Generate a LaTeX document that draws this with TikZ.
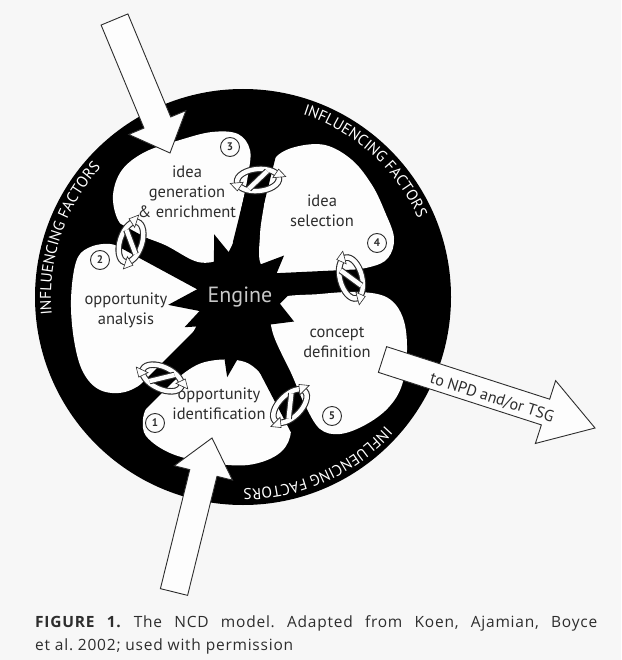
\documentclass[tikz,border=0pt]{standalone}
\usepackage{fontspec}
\setmainfont{PT Sans}
\newfontfamily\capfam{Open Sans}[LetterSpace=5]
\usetikzlibrary{calc,decorations.text}
\definecolor{bgc}{RGB}{247,247,247}
\definecolor{lobec}{RGB}{253,253,253}
\definecolor{inkc}{RGB}{45,45,45}
\definecolor{engc}{RGB}{200,200,200}
\newcommand\lblfont{\fontsize{16.5}{20}\selectfont}
\newcommand\ringfont{\fontsize{15.5}{16}\selectfont}
\newcommand\capfont{\capfam\fontsize{15.5}{20}\selectfont}
\newcommand\blockarrow[5]{%
  \coordinate (ba-h) at ($(#2)!#5!(#1)$);
  \draw[arrowbox] ($(#1)!#3!90:(#2)$) -- ($(ba-h)!#3!-90:(#1)$) -- ($(ba-h)!#4!-90:(#1)$) -- (#2)
    -- ($(ba-h)!#4!90:(#1)$) -- ($(ba-h)!#3!90:(#1)$) -- ($(#1)!#3!-90:(#2)$) -- cycle;}
\begin{document}
\frenchspacing
\begin{tikzpicture}[x=1pt,y=-1pt,
  arrowbox/.style={fill=lobec, draw=inkc, line width=0.9pt, line join=miter},
  lobe/.style={fill=lobec},
  spoke/.style={line width=21pt, black, line cap=butt},
  lbl/.style={font=\lblfont, text=inkc, align=center, inner sep=0pt},
  numc/.style={circle, draw=inkc, line width=0.9pt, fill=lobec, inner sep=0pt, minimum size=19pt,
    font=\fontsize{11}{11}\selectfont\bfseries, text=inkc},
  ringtxt/.style={decorate, decoration={text along path, text align=center, text color=white,
    text={|\ringfont|INFLUENCING FACTORS}}},
  twist/.pic={
    \draw[line width=6.6pt, inkc] (0,0) ellipse [x radius=21pt, y radius=11pt];
    \draw[line width=4.4pt, lobec] (0,0) ellipse [x radius=21pt, y radius=11pt];
    \draw[line width=6.6pt, inkc] (-10pt,-8pt) -- (10pt,8pt);
    \draw[line width=4.4pt, lobec] (-10pt,-8pt) -- (10pt,8pt);
    \draw[fill=lobec, draw=inkc, line width=0.6pt] (15pt,1pt) -- (28pt,1pt) -- (21.5pt,9pt) -- cycle;
    \draw[fill=lobec, draw=inkc, line width=0.6pt] (-15pt,-1pt) -- (-28pt,-1pt) -- (-21.5pt,-9pt) -- cycle;
  }]
\useasboundingbox (0,0) rectangle (621,660);
\fill[bgc] (0,0) rectangle (621,660);

% black disk
\coordinate (ctr) at (243,297);
\fill[black] (ctr) circle[radius=208pt];

% white lobes
\fill[lobe] plot[smooth cycle, tension=0.6] coordinates {(118,220) (113,195) (122,170) (145,152) (180,140) (212,132) (238,134) (250,150) (248,175) (242,205) (234,240) (222,258) (198,262) (165,245) (132,232)};
\fill[lobe] plot[smooth cycle, tension=0.6] coordinates {(268,178) (275,158) (295,147) (325,145) (352,160) (372,185) (385,212) (394,238) (388,258) (370,267) (335,272) (290,274) (262,266) (260,235) (264,205)};
\fill[lobe] plot[smooth cycle, tension=0.6] coordinates {(76,262) (88,248) (110,244) (135,252) (170,270) (198,290) (200,315) (188,340) (168,360) (150,378) (125,392) (100,390) (83,372) (74,340) (71,300)};
\fill[lobe] plot[smooth cycle, tension=0.6] coordinates {(275,300) (320,294) (360,292) (388,298) (403,318) (407,350) (402,385) (388,408) (365,425) (340,434) (320,429) (305,405) (292,375) (272,330)};
\fill[lobe] plot[smooth cycle, tension=0.6] coordinates {(143,428) (148,405) (175,380) (205,362) (245,362) (270,385) (288,412) (290,437) (277,455) (248,465) (210,463) (175,455) (152,442)};

% spokes
\coordinate (s3a) at (243,245); \coordinate (s3b) at (272,128);
\coordinate (s4a) at (270,284); \coordinate (s4b) at (440,276);
\coordinate (s5a) at (252,335); \coordinate (s5b) at (312,450);
\coordinate (s1a) at (210,330); \coordinate (s1b) at (130,410);
\coordinate (s2a) at (215,287); \coordinate (s2b) at (95,222);
\draw[spoke] (s3a) -- (s3b);
\draw[spoke] (s4a) -- (s4b);
\draw[spoke] (s5a) -- (s5b);
\draw[spoke] (s1a) -- (s1b);
\draw[spoke] (s2a) -- (s2b);

% engine star
\fill[black, shift={(238,300)}] (250:70) -- (266:40) -- (283:60) -- (300:40) -- (316:64) -- (332:40)
  -- (349:58) -- (5:42) -- (21:60) -- (38:40) -- (55:62) -- (76:42) -- (98:78) -- (113:42)
  -- (128:62) -- (140:40) -- (153:60) -- (164:40) -- (176:70) -- (195:42) -- (215:70) -- (233:40) -- cycle;
\node[font=\fontsize{22}{22}\selectfont, text=engc, inner sep=0pt] (engine) at (240,297) {Engine};

% ring texts (normal y orientation inside this scope)
\begin{scope}[y=1pt]
\path[ringtxt] (243,-297) ++(-164:192pt) arc[start angle=-164, end angle=-233, radius=192pt];
\path[ringtxt] (243,-297) ++(-278:192pt) arc[start angle=-278, end angle=-346, radius=192pt];
\path[ringtxt] (243,-297) ++(-32:192pt) arc[start angle=-32, end angle=-100, radius=192pt];
\end{scope}

% labels
\node[lbl] (ideagen) at (187,192) {idea\\generation\\\& enrichment};
\node[lbl] (ideasel) at (322,211) {idea\\selection};
\node[lbl] (oppana) at (126,310) {opportunity\\analysis};
\node[lbl] (concdef) at (337,342) {concept\\definition};
\node[lbl] (oppid) at (219,403.5) {opportunity\\identification};

% connectors
\pic[rotate=5] at (258,180) {twist};
\pic[rotate=72] at (131,242) {twist};
\pic[rotate=105] at (351,278) {twist};
\pic[rotate=45] at (290,406) {twist};
\pic[rotate=-25] at (162,378) {twist};

% numbers
\node[numc] (n1) at (155,423) {1};
\node[numc] (n2) at (100,260) {2};
\node[numc] (n3) at (230,147) {3};
\node[numc] (n4) at (377,243) {4};
\node[numc] (n5) at (332,416) {5};

% block arrows
\coordinate (ta) at (114.5,19.5); \coordinate (tb) at (170,153);
\blockarrow{ta}{tb}{14.5pt}{31pt}{33pt}
\coordinate (ba) at (174,592); \coordinate (bb) at (212,438);
\blockarrow{ba}{bb}{14pt}{30pt}{36pt}
\coordinate (ra) at (382.5,359.5); \coordinate (rb) at (595,428);
\blockarrow{ra}{rb}{13.5pt}{33pt}{52pt}
\node[font=\fontsize{16}{16}\selectfont, text=inkc, rotate=-17.9, inner sep=0pt] (npd) at (492,398) {to NPD and/or TSG};

% caption
\node[anchor=base west, inner sep=0pt, text=inkc, font=\capfont] (cap1) at (35,627)
  {\makebox[562pt][s]{\textbf{FIGURE 1.} The NCD model. Adapted from Koen, Ajamian, Boyce}};
\node[anchor=base west, inner sep=0pt, text=inkc, font=\capfont] (cap2) at (35,650)
  {et al. 2002; used with permission};
\end{tikzpicture}
\end{document}
